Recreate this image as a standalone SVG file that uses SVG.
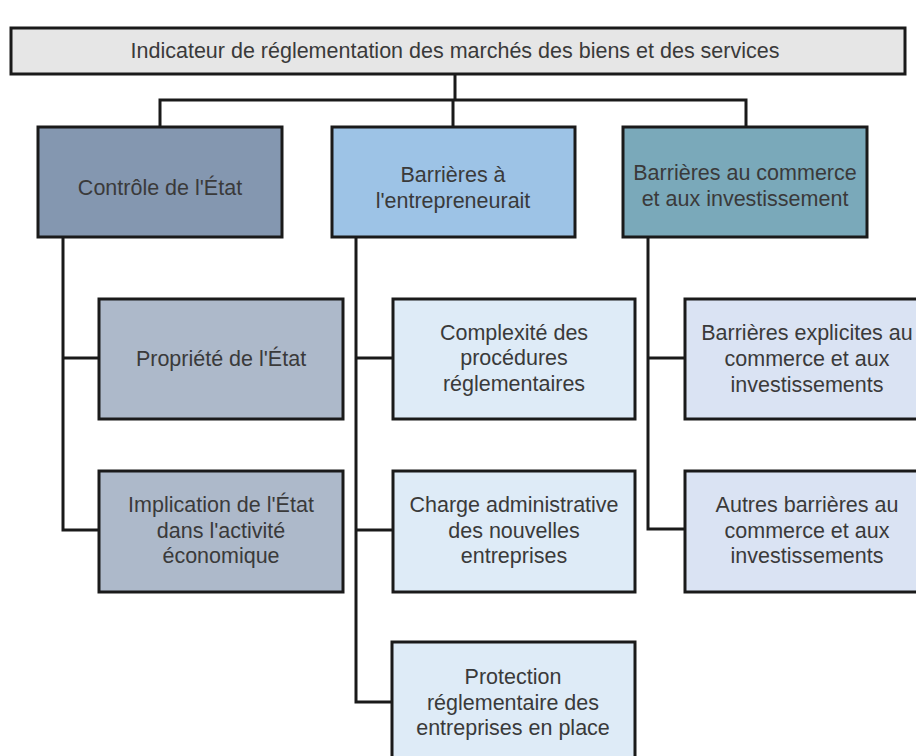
<svg xmlns="http://www.w3.org/2000/svg" width="916" height="756" viewBox="0 0 916 756">
<style>
.box{stroke:#1a1a1a;stroke-width:3}
.t{font-family:"Liberation Sans",Arial,sans-serif;font-size:21.5px;fill:#3a3a3a;text-anchor:middle;dominant-baseline:central}
.c{fill:none;stroke:#1a1a1a;stroke-width:3}
</style>
<rect width="916" height="756" fill="#ffffff"/>
<g id="connectors">
<path class="c" d="M455 74V100M160 126V100H746V126M453 100V126"/>
<path class="c" d="M63 237V530H99M63 358H99"/>
<path class="c" d="M356 237V702H392M356 358H393M356 530H393"/>
<path class="c" d="M648 237V529H685M648 358H685"/>
</g>
<g id="root">
<rect class="box" x="11" y="28" width="894" height="46" fill="#e6e6e6"/>
<text class="t" x="455" y="51">Indicateur de réglementation des marchés des biens et des services</text>
</g>
<g id="controle">
<rect class="box" x="38" y="127" width="244" height="110" fill="#8497b0"/>
<text class="t" x="160" y="188">Contrôle de l'État</text>
</g>
<g id="entrepreneuriat">
<rect class="box" x="332" y="127" width="243" height="110" fill="#9dc3e6"/>
<text class="t" x="453" y="175">Barrières à</text>
<text class="t" x="453" y="201">l'entrepreneurait</text>
</g>
<g id="commerce">
<rect class="box" x="623" y="127" width="244" height="110" fill="#7aa9ba"/>
<text class="t" x="745" y="173">Barrières au commerce</text>
<text class="t" x="745" y="199">et aux investissement</text>
</g>
<g id="propriete">
<rect class="box" x="99" y="299" width="244" height="120" fill="#adb9ca"/>
<text class="t" x="221" y="359">Propriété de l'État</text>
</g>
<g id="implication">
<rect class="box" x="99" y="471" width="244" height="121" fill="#adb9ca"/>
<text class="t" x="221" y="505">Implication de l'État</text>
<text class="t" x="221" y="531">dans l'activité</text>
<text class="t" x="221" y="556">économique</text>
</g>
<g id="complexite">
<rect class="box" x="393" y="299" width="242" height="120" fill="#deebf7"/>
<text class="t" x="514" y="333">Complexité des</text>
<text class="t" x="514" y="358">procédures</text>
<text class="t" x="514" y="384">réglementaires</text>
</g>
<g id="charge">
<rect class="box" x="393" y="471" width="242" height="121" fill="#deebf7"/>
<text class="t" x="514" y="505">Charge administrative</text>
<text class="t" x="514" y="531">des nouvelles</text>
<text class="t" x="514" y="556">entreprises</text>
</g>
<g id="protection">
<rect class="box" x="392" y="642" width="243" height="120" fill="#deebf7"/>
<text class="t" x="513" y="677">Protection</text>
<text class="t" x="513" y="703">réglementaire des</text>
<text class="t" x="513" y="728">entreprises en place</text>
</g>
<g id="explicites">
<rect class="box" x="685" y="299" width="244" height="120" fill="#dae3f3"/>
<text class="t" x="807" y="333">Barrières explicites au</text>
<text class="t" x="807" y="359">commerce et aux</text>
<text class="t" x="807" y="385">investissements</text>
</g>
<g id="autres">
<rect class="box" x="685" y="471" width="244" height="121" fill="#dae3f3"/>
<text class="t" x="807" y="505">Autres barrières au</text>
<text class="t" x="807" y="531">commerce et aux</text>
<text class="t" x="807" y="556">investissements</text>
</g>
</svg>
